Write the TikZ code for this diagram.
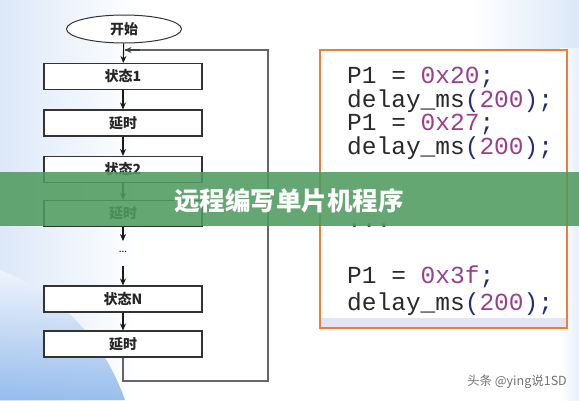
\documentclass[tikz,border=0pt]{standalone}
\usepackage{fontspec}
\newfontfamily\cjk{Noto Sans CJK SC}
\newfontfamily\mono{Liberation Mono}
\usetikzlibrary{shapes.geometric,arrows.meta}
\definecolor{num}{HTML}{9A3F8C}
\definecolor{pun}{HTML}{2A2A7A}
\definecolor{txt}{HTML}{2A2A2A}
\definecolor{bannercol}{HTML}{509B60}
\definecolor{codeborder}{HTML}{E8803A}
\definecolor{lav}{HTML}{E4E4F4}
\definecolor{bgblue}{HTML}{DCE8F8}
\definecolor{bgdeep}{HTML}{8FB8EC}
\tikzset{
  flowbox/.style={draw=black!80, line width=1.1pt, fill=white, minimum width=158pt, minimum height=26pt, inner sep=0pt, font=\cjk\bfseries\fontsize{14}{16}\selectfont, text=black!85},
  startnode/.style={ellipse, draw=black!80, line width=1pt, fill=white, minimum width=115pt, minimum height=28pt, inner sep=0pt, font=\cjk\bfseries\fontsize{14}{16}\selectfont, text=black!85},
  flowarrow/.style={-{Stealth[length=7pt,width=6pt]}, line width=1.1pt, black!90},
  loopline/.style={line width=1.1pt, black!60},
  codeline/.style={anchor=base west, inner sep=0pt, font=\mono\fontsize{24.5}{27}\selectfont, text=txt},
}
\begin{document}
\begin{tikzpicture}[x=1pt,y=-1pt]
\useasboundingbox (0,0) rectangle (579,400);
% background
\fill[white] (0,0) rectangle (579,400);
\shade[left color=bgblue, right color=white] (0,0) rectangle (140,400);
\shade[top color=bgblue!40, bottom color=bgdeep, opacity=0.9]
  (0,270) .. controls (50,290) and (100,330) .. (125,400) -- (0,400) -- cycle;
\shade[left color=white, right color=bgblue] (470,0) rectangle (579,48);
\shade[left color=white, right color=bgblue!70] (560,48) rectangle (579,400);
% flowchart
\node[startnode] (start) at (124,29) {开始};
\node[flowbox] (s1) at (123,76.5) {状态1};
\node[flowbox] (d1) at (123,123) {延时};
\node[flowbox] (s2) at (123,169.5) {状态2};
\node[flowbox] (d2) at (123,213.5) {延时};
\node[inner sep=0pt, font=\cjk\fontsize{10}{12}\selectfont] (dots) at (123,252) {...};
\node[flowbox] (sn) at (123,299) {状态N};
\node[flowbox] (dn) at (123,344) {延时};
\coordinate (c1) at (123,381);
\coordinate (c2) at (268,381);
\coordinate (c3) at (268,50);
\coordinate (j) at (124.5,50);
\draw[flowarrow] (start) -- (s1);
\draw[flowarrow] (s1) -- (d1);
\draw[flowarrow] (d1) -- (s2);
\draw[flowarrow] (s2) -- (d2);
\draw[flowarrow] (d2.south) -- ++(0,14);
\draw[flowarrow] (123,266) -- (sn.north);
\draw[flowarrow] (sn) -- (dn);
\draw[loopline] (dn.south) -- (c1) -- (c2) -- (c3) -- (j);
\draw[-{Stealth[length=7pt,width=6pt]}, line width=1.1pt, black!75] (140,50) -- (j);
% code box
\fill[white] (320,50) rectangle (567,328);
\fill[lav] (321,318) rectangle (566,327);
\draw[codeborder, line width=2pt] (320,50) rectangle (567,328);
\node[codeline] (l1) at (347,83) {P1 = {\color{num}0x20}{\color{pun};}};
\node[codeline] (l2) at (347,107) {delay\_ms{\color{pun}(}{\color{num}200}{\color{pun});}};
\node[codeline] (l3) at (347,130) {P1 = {\color{num}0x27}{\color{pun};}};
\node[codeline] (l4) at (347,154) {delay\_ms{\color{pun}(}{\color{num}200}{\color{pun});}};
\node[codeline, text=black!70] (l5) at (347,227) {...};
\node[codeline] (l6) at (347,283) {P1 = {\color{num}0x3f}{\color{pun};}};
\node[codeline] (l7) at (347,310) {delay\_ms{\color{pun}(}{\color{num}200}{\color{pun});}};
% banner
\fill[bannercol, opacity=0.88] (0,172) rectangle (579,226);
\node[inner sep=0pt, text=white, font=\cjk\bfseries\fontsize{25.5}{28}\selectfont] (title) at (289,201) {远程编写单片机程序};
% watermark
\node[anchor=east, inner sep=0pt, text=black!55, font=\cjk\fontsize{12.5}{14}\selectfont] (wm) at (567,382) {头条 @ying说1SD};
\end{tikzpicture}
\end{document}
